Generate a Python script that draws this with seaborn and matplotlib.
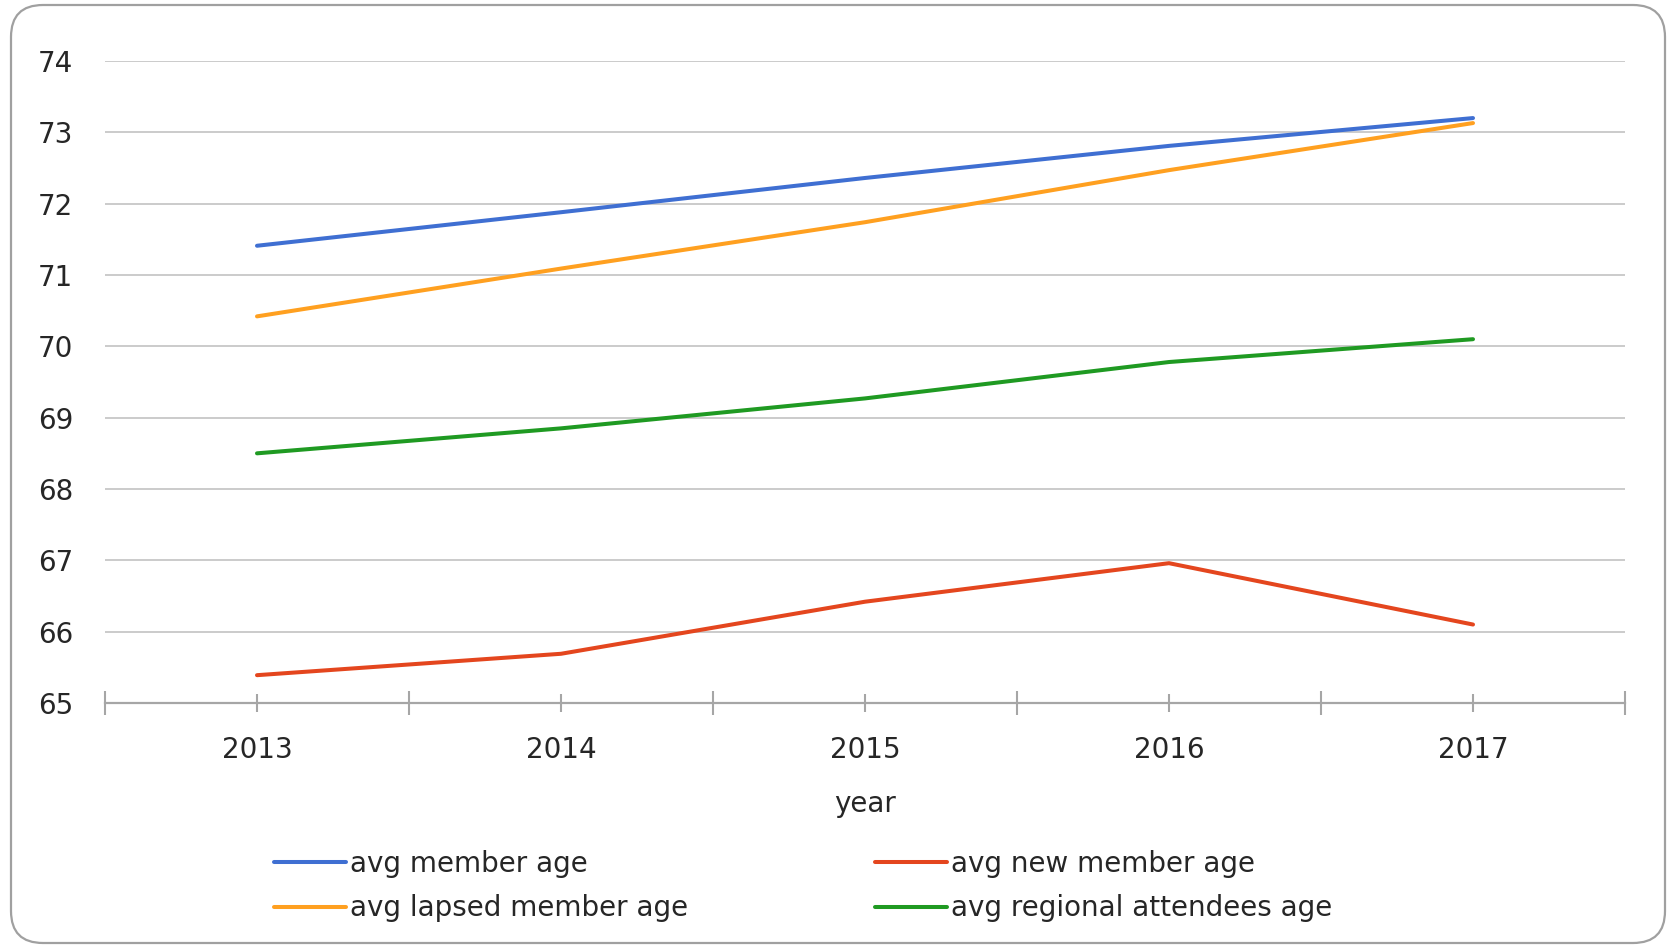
import matplotlib
matplotlib.use("Agg")
import matplotlib.pyplot as plt
import matplotlib.patches as mpatches
from matplotlib.lines import Line2D
from matplotlib.ticker import FixedLocator
import numpy as np
import pandas as pd
import seaborn as sns

# ---- data -------------------------------------------------------------
years = ["2013", "2014", "2015", "2016", "2017"]
avg_member_age = [71.41, 71.88, 72.36, 72.81, 73.20]
avg_new_member_age = [65.39, 65.69, 66.42, 66.96, 66.10]
avg_lapsed_member_age = [70.42, 71.09, 71.74, 72.47, 73.13]
avg_regional_attendees_age = [68.50, 68.85, 69.27, 69.78, 70.10]

series_names = ["avg member age", "avg new member age",
                "avg lapsed member age", "avg regional attendees age"]
series_colors = ["#3F6FD2", "#E4461E", "#FFA020", "#1F9A22"]
y_ticks = [65, 66, 67, 68, 69, 70, 71, 72, 73, 74]

df = pd.DataFrame({
    "year": years * 4,
    "age": avg_member_age + avg_new_member_age
           + avg_lapsed_member_age + avg_regional_attendees_age,
    "series": np.repeat(series_names, len(years)),
})

# ---- styling ----------------------------------------------------------
sns.set_theme(style="white")
plt.rcParams["font.family"] = ["DejaVu Sans"]
text_color = "#262626"
grid_color = "#CBCBCB"
axis_color = "#A6A6A6"
FS = 20

W, H, DPI = 1669, 946, 100
fig = plt.figure(figsize=(W / DPI, H / DPI), dpi=DPI, facecolor="white")

# axes area in pixels: left 105, right 1625, top 61, bottom 703
ax = fig.add_axes([105 / W, 1 - 703 / H, (1625 - 105) / W, (703 - 61) / H])

palette = dict(zip(series_names, series_colors))
sns.lineplot(data=df, x="year", y="age", hue="series", palette=palette,
             hue_order=series_names, linewidth=2.9, legend=False, ax=ax,
             sort=False)

ax.set_xlim(-0.5, len(years) - 0.5)
ax.set_ylim(y_ticks[0], y_ticks[-1])
ax.set_yticks(y_ticks)
ax.set_yticklabels([str(v) for v in y_ticks])
ax.set_xticks(range(len(years)))
ax.set_xticklabels(years)
ax.xaxis.set_minor_locator(FixedLocator(np.arange(-0.5, len(years), 1.0)))

ax.grid(axis="y", color=grid_color, linewidth=1.4)
ax.grid(axis="x", visible=False)
ax.set_axisbelow(True)
for side in ["top", "right", "left"]:
    ax.spines[side].set_visible(False)
ax.spines["bottom"].set_color(axis_color)
ax.spines["bottom"].set_linewidth(1.6)
ax.spines["bottom"].set_zorder(3)

ax.tick_params(axis="y", length=0, pad=23, labelsize=FS, labelcolor=text_color)
ax.tick_params(axis="x", which="major", direction="inout", length=12.5,
               width=1.5, color=axis_color, pad=17.5, labelsize=FS,
               labelcolor=text_color, bottom=True)
ax.tick_params(axis="x", which="minor", direction="inout", length=17.5,
               width=1.5, color=axis_color, bottom=True)

ax.set_xlabel("year", fontsize=FS, color=text_color)
ax.set_ylabel("")
ax.xaxis.set_label_coords(0.5, -0.135)

# ---- legend (two columns) --------------------------------------------
handles = {n: Line2D([], [], color=c, linewidth=2.9)
           for n, c in zip(series_names, series_colors)}
leg_kw = dict(frameon=False, fontsize=FS, borderpad=0, borderaxespad=0,
              handlelength=2.6, handletextpad=0.15, labelspacing=0.6,
              loc="center left", labelcolor=text_color)
leg1 = fig.legend([handles[series_names[0]], handles[series_names[2]]],
                  [series_names[0], series_names[2]],
                  bbox_to_anchor=(274 / W, 1 - 886 / H), **leg_kw)
leg2 = fig.legend([handles[series_names[1]], handles[series_names[3]]],
                  [series_names[1], series_names[3]],
                  bbox_to_anchor=(875 / W, 1 - 886 / H), **leg_kw)

# ---- rounded chart frame ---------------------------------------------
frame = mpatches.FancyBboxPatch((11, 3), 1654, 938,
                                boxstyle="round,pad=0,rounding_size=32",
                                transform=None, facecolor="none",
                                edgecolor="#A0A0A0", linewidth=1.6)
fig.patches.append(frame)

fig.savefig("out.png", dpi=DPI, facecolor="white")
